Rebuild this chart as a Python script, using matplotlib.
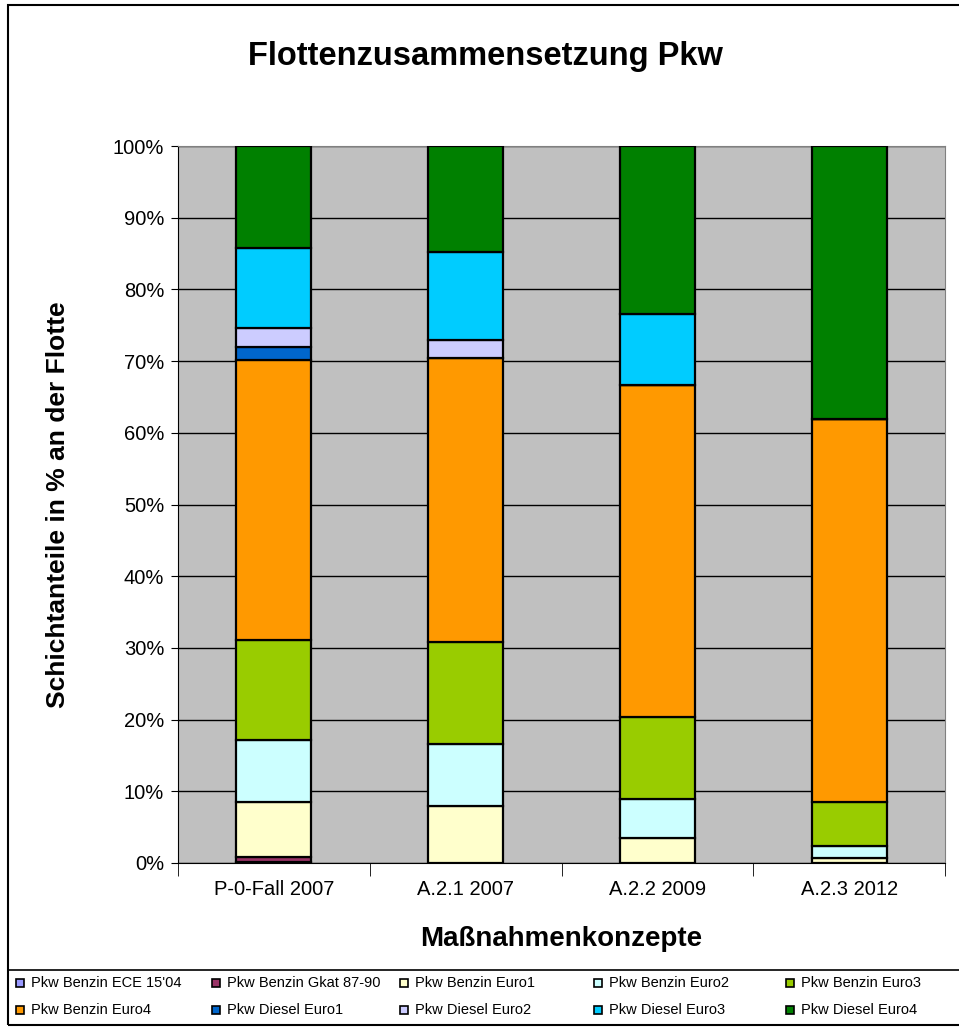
import matplotlib
matplotlib.use("Agg")
import matplotlib.pyplot as plt
import numpy as np
from matplotlib.patches import Rectangle
from matplotlib.lines import Line2D

plt.rcParams['font.family'] = ['Liberation Sans', 'DejaVu Sans']

categories = ["P-0-Fall 2007", "A.2.1 2007", "A.2.2 2009", "A.2.3 2012"]
series_names = ["Pkw Benzin ECE 15'04", "Pkw Benzin Gkat 87-90", "Pkw Benzin Euro1",
                "Pkw Benzin Euro2", "Pkw Benzin Euro3", "Pkw Benzin Euro4",
                "Pkw Diesel Euro1", "Pkw Diesel Euro2", "Pkw Diesel Euro3", "Pkw Diesel Euro4"]
ece1504 = [0.1, 0.0, 0.0, 0.0]
gkat = [0.7, 0.0, 0.0, 0.0]
benzin_euro1 = [7.7, 7.95, 3.5, 0.7]
benzin_euro2 = [8.65, 8.65, 5.4, 1.7]
benzin_euro3 = [13.95, 14.2, 11.4, 6.1]
benzin_euro4 = [39.1, 39.6, 46.4, 53.4]
diesel_euro1 = [1.8, 0.0, 0.0, 0.0]
diesel_euro2 = [2.6, 2.5, 0.0, 0.0]
diesel_euro3 = [11.2, 12.3, 9.9, 0.0]
diesel_euro4 = [14.2, 14.8, 23.4, 38.1]
series = [ece1504, gkat, benzin_euro1, benzin_euro2, benzin_euro3, benzin_euro4,
          diesel_euro1, diesel_euro2, diesel_euro3, diesel_euro4]
colors = ["#9999FF", "#993366", "#FFFFCC", "#CCFFFF", "#99CC00", "#FF9900",
          "#0066CC", "#CCCCFF", "#00CCFF", "#008000"]

W, H = 959, 1030
fig = plt.figure(figsize=(W/100, H/100), dpi=100)
ax = fig.add_axes([178/W, 1-863/H, (945-178)/W, (863-146)/H])
ax.set_facecolor("#C0C0C0")

x = np.arange(len(categories))
bottom = np.zeros(len(categories))
for vals, c, name in zip(series, colors, series_names):
    v = np.array(vals)
    ax.bar(x, v, 0.39, bottom=bottom, color=c, edgecolor="black", linewidth=1.6,
           label=name, zorder=3)
    bottom += v

ax.set_xlim(-0.5, 3.5)
ax.set_ylim(0, 100)
ax.set_yticks(np.arange(0, 101, 10))
ax.set_yticklabels([f"{t}%" for t in range(0, 101, 10)], fontsize=14.5)
ax.yaxis.grid(True, color="black", linewidth=1, zorder=1)
ax.set_xticks(x)
ax.set_xticklabels(categories, fontsize=14.5)
ax.set_xticks(np.arange(-0.5, 4, 1), minor=True)
ax.tick_params(axis='x', which='major', length=0, pad=12)
ax.tick_params(axis='x', which='minor', length=9, color="black")
ax.tick_params(axis='y', length=5, color="black", pad=5)
for s in ax.spines.values():
    s.set_color("black")
ax.spines['right'].set_color("#808080")
ax.spines['top'].set_color("#808080")

ax.set_ylabel("Schichtanteile in % an der Flotte", fontsize=19, fontweight="bold", labelpad=31)
ax.set_xlabel("Maßnahmenkonzepte", fontsize=20, fontweight="bold", labelpad=20)
fig.text(485/W, 1-57/H, "Flottenzusammensetzung Pkw", ha="center", va="center",
         fontsize=23.5, fontweight="bold")

# outer chart border (extends past right edge)
fig.add_artist(Rectangle((8/W, 1-1025/H), (W+5-8)/W, (1025-5)/H, transform=fig.transFigure,
                         fill=False, edgecolor="black", linewidth=1.5, clip_on=False))
# legend box top line
fig.add_artist(Line2D([8/W, 1.0], [1-970/H, 1-970/H], transform=fig.transFigure,
                      color="black", linewidth=1.2))

# legend entries (Excel-like, two rows of five)
leg_x = [16, 212, 400, 594, 786, 16, 212, 400, 594, 786]
leg_y = [983, 983, 983, 983, 983, 1010, 1010, 1010, 1010, 1010]
for name, c, lx, ly in zip(series_names, colors, leg_x, leg_y):
    fig.add_artist(Rectangle((lx/W, 1-(ly+4)/H), 8/W, 8/H, transform=fig.transFigure,
                             facecolor=c, edgecolor="black", linewidth=1.2))
    fig.text((lx+15)/W, 1-ly/H, name, ha="left", va="center", fontsize=10.5)

fig.savefig("out.png", dpi=100)
